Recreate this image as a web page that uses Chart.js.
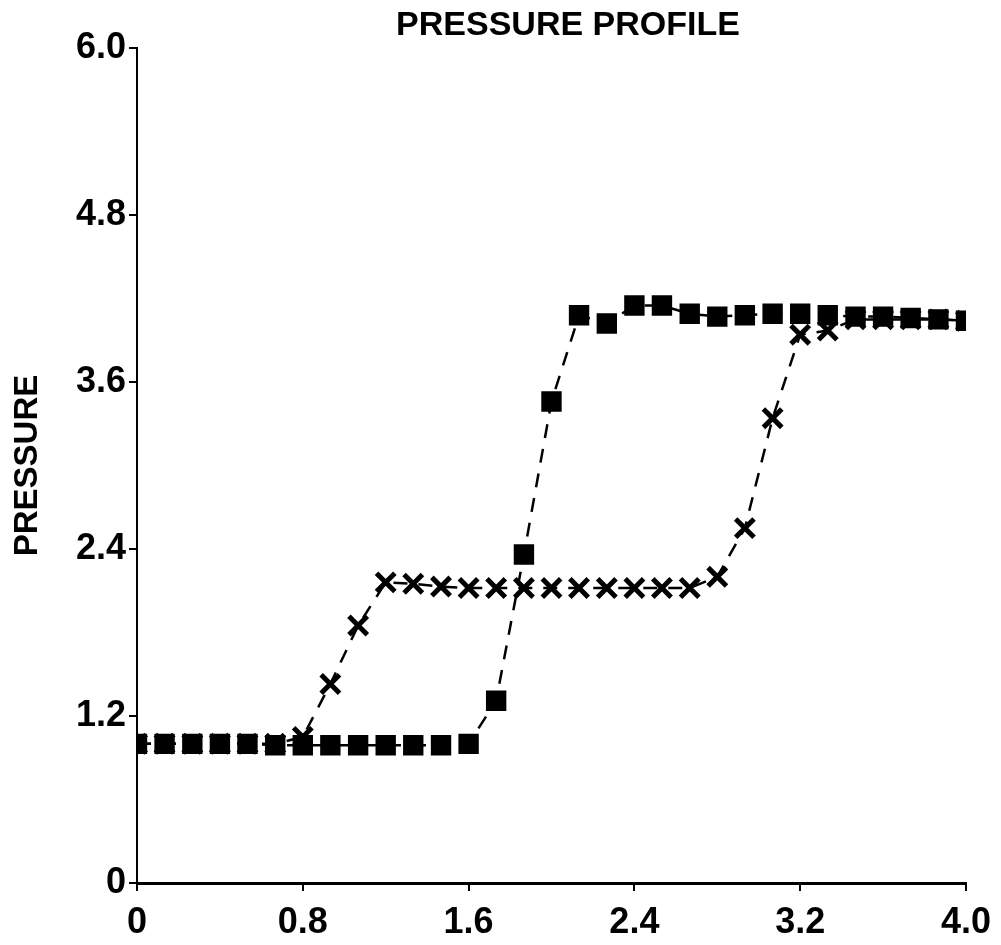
<!DOCTYPE html>
<html>
<head>
<meta charset="utf-8">
<script src="https://cdn.jsdelivr.net/npm/chart.js@4/dist/chart.umd.min.js"></script>
<style>
  html, body { margin: 0; padding: 0; background: #fff; }
  #wrap { width: 1001px; height: 945px; }
</style>
</head>
<body>
<div id="wrap"><canvas id="chart" width="1001" height="945"></canvas></div>
<script>
// position along the tube (31 stations)
const positions = [0, 0.133, 0.267, 0.4, 0.533, 0.667, 0.8, 0.933, 1.067, 1.2, 1.333,
  1.467, 1.6, 1.733, 1.867, 2.0, 2.133, 2.267, 2.4, 2.533, 2.667,
  2.8, 2.933, 3.067, 3.2, 3.333, 3.467, 3.6, 3.733, 3.867, 4.0];

// square markers
const pressureSquares = [1.0, 1.0, 1.0, 1.0, 1.0, 0.99, 0.99, 0.99, 0.99, 0.99, 0.99,
  0.99, 1.0, 1.31, 2.36, 3.46, 4.08, 4.02, 4.15, 4.15, 4.09,
  4.07, 4.08, 4.09, 4.09, 4.08, 4.07, 4.07, 4.06, 4.05, 4.04];

// cross markers
const pressureCrosses = [1.0, 1.0, 1.0, 1.0, 1.0, 1.0, 1.05, 1.43, 1.85, 2.16, 2.15,
  2.13, 2.12, 2.12, 2.12, 2.12, 2.12, 2.12, 2.12, 2.12, 2.12,
  2.2, 2.55, 3.34, 3.94, 3.97, 4.05, 4.05, 4.05, 4.05, 4.04];

const xTicks = [0, 0.8, 1.6, 2.4, 3.2, 4.0];
const yTicks = [0, 1.2, 2.4, 3.6, 4.8, 6.0];

const FONT = "'Liberation Sans', Arial, sans-serif";

function toPoints(ys) {
  return positions.map((x, i) => ({ x, y: ys[i] }));
}

// title drawn over the plot, a bit right of canvas centre like the original
const titlePlugin = {
  id: "pageTitle",
  afterDraw(chart) {
    const c = chart.ctx;
    c.save();
    c.font = "bold 34px " + FONT;
    c.fillStyle = "#000";
    c.textAlign = "center";
    c.textBaseline = "middle";
    c.fillText("PRESSURE PROFILE", 568, 26);
    c.restore();
  }
};

new Chart(document.getElementById("chart"), {
  type: "line",
  data: {
    datasets: [
      {
        label: "squares",
        data: toPoints(pressureSquares),
        borderColor: "#000",
        backgroundColor: "#000",
        borderWidth: 2.5,
        borderDash: [14, 11],
        pointStyle: "rect",
        pointRadius: 13,
        pointBorderWidth: 2,
        pointBackgroundColor: "#000",
        pointBorderColor: "#000",
        tension: 0
      },
      {
        label: "crosses",
        data: toPoints(pressureCrosses),
        borderColor: "#000",
        backgroundColor: "#000",
        borderWidth: 2.5,
        borderDash: [14, 11],
        pointStyle: "crossRot",
        pointRadius: 13,
        pointBorderWidth: 5,
        pointBorderColor: "#000",
        tension: 0
      }
    ]
  },
  options: {
    responsive: false,
    animation: false,
    layout: { padding: { top: 48, right: 35, left: 0, bottom: 0 } },
    plugins: {
      legend: { display: false },
      title: { display: false },
      tooltip: { enabled: false }
    },
    scales: {
      x: {
        type: "linear",
        min: 0,
        max: 4,
        afterBuildTicks: s => { s.ticks = xTicks.map(v => ({ value: v })); },
        afterFit: s => { s.height = 62; },
        border: { display: true, color: "#000", width: 3 },
        grid: { drawOnChartArea: false, drawTicks: true, tickLength: 8, color: "#000", lineWidth: 2 },
        ticks: {
          color: "#000",
          padding: 10,
          maxRotation: 0,
          font: { family: FONT, size: 36, weight: "bold" },
          callback: v => (v === 0 ? "0" : v.toFixed(1))
        }
      },
      y: {
        type: "linear",
        min: 0,
        max: 6,
        afterBuildTicks: s => { s.ticks = yTicks.map(v => ({ value: v })); },
        afterFit: s => { s.width = 137; },
        border: { display: true, color: "#000", width: 2 },
        grid: { drawOnChartArea: false, drawTicks: true, tickLength: 8, color: "#000", lineWidth: 2 },
        title: {
          display: true,
          text: "PRESSURE",
          color: "#000",
          padding: { top: 8, bottom: 0 },
          font: { family: FONT, size: 33, weight: "bold" }
        },
        ticks: {
          color: "#000",
          padding: 3,
          font: { family: FONT, size: 36, weight: "bold" },
          callback: v => (v === 0 ? "0" : v.toFixed(1))
        }
      }
    }
  },
  plugins: [titlePlugin]
});
</script>
</body>
</html>
